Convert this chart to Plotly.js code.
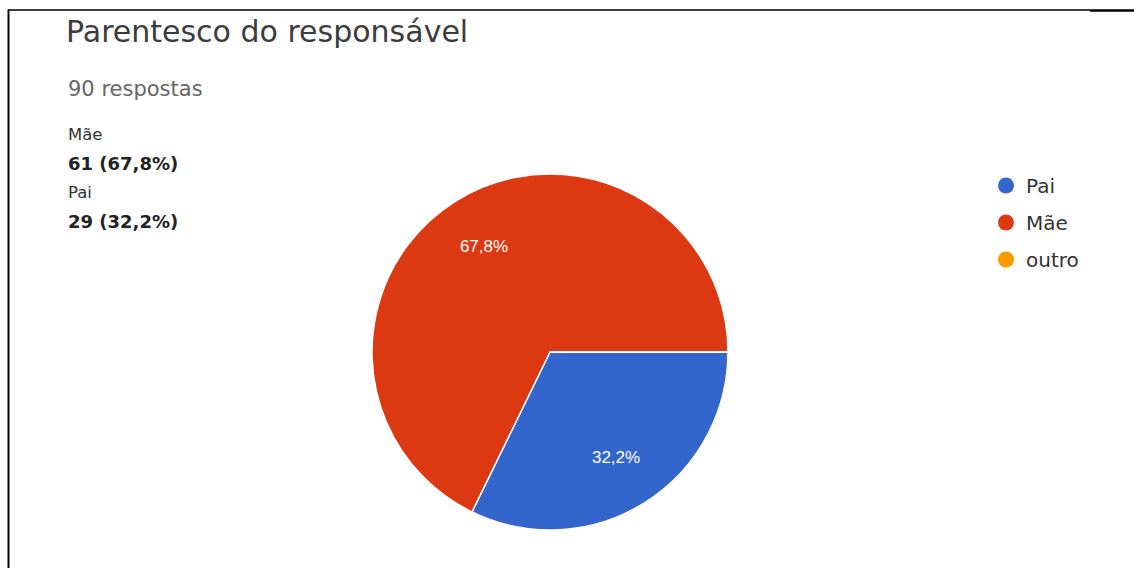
<!DOCTYPE html>
<html>
<head>
<meta charset="utf-8">
<script src="https://cdn.plot.ly/plotly-3.0.1.min.js"></script>
<style>html,body{margin:0;padding:0;background:#fff;}#chart{width:1134px;height:568px;}</style>
</head>
<body>
<div id="chart"></div>
<script>
// ---- data ----
const chartTitle = "Parentesco do responsável";
const totalLabel = "90 respostas";
const categories = ["Pai", "Mãe", "outro"];
const counts = [29, 61, 0];
const colors = ["#3366cc", "#dc3912", "#ff9900"];
// summary list on the left (order as shown)
const summaryOrder = ["Mãe", "Pai"];

const W = 1134, H = 568;
const FONT = 'DejaVu Sans, Verdana, sans-serif';
const total = counts.reduce((a, b) => a + b, 0);
const fmtPct = v => (v / total * 100).toFixed(1).replace('.', ',') + '%';
const pieDomain = {x: [372 / W, 728 / W], y: [38 / H, 394 / H]};

const traces = [{
  type: 'pie',
  labels: categories,
  values: counts,
  marker: {colors: colors, line: {color: '#ffffff', width: 1.5}},
  sort: false,
  direction: 'clockwise',
  rotation: 90,
  textinfo: 'none',
  showlegend: false,
  hoverinfo: 'label+value+percent',
  domain: pieDomain
}, {
  // transparent overlay that only carries the percentage labels (placed in the outer ring)
  type: 'pie',
  labels: categories,
  values: counts,
  hole: 0.4,
  marker: {colors: ['rgba(0,0,0,0)', 'rgba(0,0,0,0)', 'rgba(0,0,0,0)'], line: {width: 0}},
  sort: false,
  direction: 'clockwise',
  rotation: 90,
  texttemplate: '%{percent:.1%}',
  textposition: 'inside',
  insidetextorientation: 'horizontal',
  insidetextfont: {family: 'Liberation Sans, Arial, sans-serif', size: 17, color: '#ffffff'},
  showlegend: false,
  hoverinfo: 'skip',
  domain: pieDomain
}];

// legend entries with round markers
categories.forEach((c, i) => {
  traces.push({
    type: 'scatter', mode: 'markers', x: [null], y: [null], name: c,
    legendgroup: 'g' + i,
    marker: {color: colors[i], size: 17, symbol: 'circle'},
    showlegend: true, hoverinfo: 'skip'
  });
});

const annotations = [];
function addText(txt, px, py, size, color) {
  annotations.push({
    text: txt, xref: 'paper', yref: 'paper', x: px / W, y: 1 - py / H,
    xanchor: 'left', yanchor: 'middle', showarrow: false,
    font: {size: size, color: color, family: FONT}
  });
}
addText(totalLabel, 66, 89, 21, '#666666');
summaryOrder.forEach((name, k) => {
  const i = categories.indexOf(name);
  const y0 = 134 + k * 58;
  addText(name, 66, y0, 16.5, '#333333');
  addText('<b>' + counts[i] + ' (' + fmtPct(counts[i]) + ')</b>', 66, y0 + 29, 18, '#222222');
});

const layout = {
  width: W, height: H,
  margin: {l: 0, r: 0, t: 0, b: 0},
  paper_bgcolor: '#ffffff', plot_bgcolor: '#ffffff',
  separators: ',.',
  title: {
    text: chartTitle, x: 66 / W, xanchor: 'left', xref: 'paper',
    y: 1 - 31 / H, yanchor: 'middle', yref: 'paper',
    font: {family: FONT, size: 30, color: '#3c3c3c'}
  },
  xaxis: {visible: false, domain: [0.99, 1]},
  yaxis: {visible: false, domain: [0.99, 1]},
  showlegend: true,
  legend: {
    x: 986 / W, y: 1 - 166 / H, xanchor: 'left', yanchor: 'top',
    font: {family: FONT, size: 20, color: '#333333'},
    itemwidth: 30, tracegroupgap: 8, bgcolor: 'rgba(0,0,0,0)'
  },
  annotations: annotations,
  shapes: [
    {type: 'line', xref: 'paper', yref: 'paper', x0: 8 / W, x1: 1090 / W, y0: 1 - 10 / H, y1: 1 - 10 / H, line: {color: '#000', width: 1.5}},
    {type: 'line', xref: 'paper', yref: 'paper', x0: 1090 / W, x1: 1, y0: 1 - 10.5 / H, y1: 1 - 10.5 / H, line: {color: '#000', width: 2.5}},
    {type: 'line', xref: 'paper', yref: 'paper', x0: 8.5 / W, x1: 8.5 / W, y0: 1 - 9.5 / H, y1: 0, line: {color: '#000', width: 2}}
  ]
};

Plotly.newPlot('chart', traces, layout, {displayModeBar: false, staticPlot: true});
</script>
</body>
</html>
